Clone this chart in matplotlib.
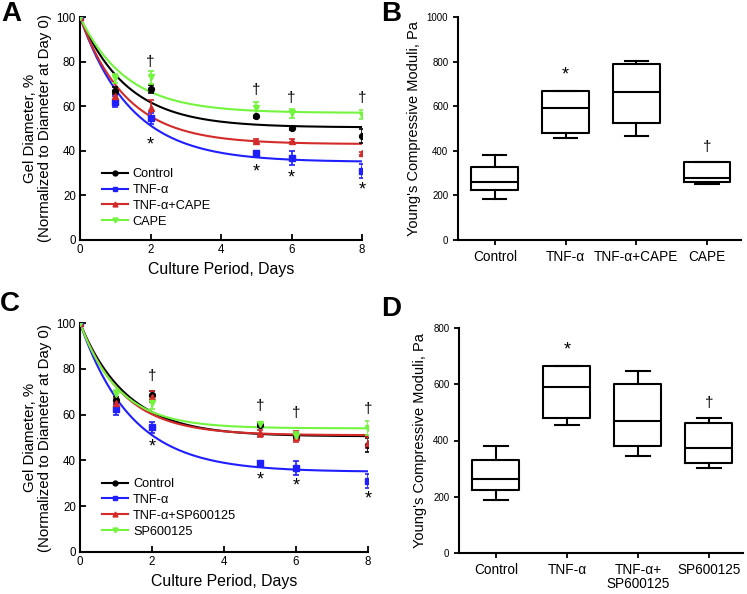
import numpy as np
import matplotlib
matplotlib.use('Agg')
import matplotlib.pyplot as plt
from matplotlib.lines import Line2D

plt.rcParams['font.family'] = ['Liberation Sans', 'DejaVu Sans']

# ---- shared ----
days = [0, 1, 2, 5, 6, 8]
colors = ['black', '#1f1fff', '#d42a2a', '#72f53c']
markers = ['o', 's', '^', 'v']

# ---- panel A: gel diameter, CAPE ----
a_labels = ['Control', 'TNF-α', 'TNF-α+CAPE', 'CAPE']
a_means = [
    [100, 67.0, 67.7, 55.4, 50.1, 46.7],
    [100, 62.1, 54.6, 38.9, 36.7, 31.0],
    [100, 64.4, 59.1, 44.6, 44.6, 38.9],
    [100, 72.6, 73.0, 59.0, 56.9, 56.1],
]
a_errs = [
    [0, 1.5, 2.0, 0.8, 0.8, 3.0],
    [0, 2.5, 2.5, 0.8, 3.0, 3.0],
    [0, 1.5, 3.5, 0.6, 0.6, 0.6],
    [0, 2.0, 3.0, 3.0, 2.0, 2.0],
]
a_plateau = [50.5, 35.0, 43.0, 57.0]
a_rate = [0.74, 0.69, 0.76, 0.76]
a_dagger_days = [2, 5, 6, 8]
a_dagger_y = [80.0, 67.4, 63.6, 63.6]
a_star_y = [42.7, 30.7, 27.7, 22.5]

# ---- panel C: gel diameter, SP600125 ----
c_labels = ['Control', 'TNF-α', 'TNF-α+SP600125', 'SP600125']
c_means = [
    [100, 66.3, 68.5, 55.4, 50.4, 46.7],
    [100, 62.3, 54.4, 38.8, 36.6, 31.0],
    [100, 64.9, 67.8, 51.8, 50.4, 47.8],
    [100, 68.8, 64.9, 55.9, 50.7, 54.0],
]
c_errs = [
    [0, 1.5, 2.0, 1.0, 1.5, 3.0],
    [0, 2.5, 2.5, 0.8, 3.0, 3.0],
    [0, 2.5, 2.5, 1.5, 2.5, 2.5],
    [0, 2.0, 2.5, 1.0, 1.5, 3.0],
]
c_plateau = [50.5, 35.0, 51.0, 54.0]
c_rate = [0.77, 0.70, 0.84, 0.93]
c_dagger_days = [2, 5, 6, 8]
c_dagger_y = [76.8, 63.7, 60.8, 62.3]
c_star_y = [46.0, 31.5, 28.9, 23.2]

# ---- panel B: compressive moduli, CAPE ----
b_groups = ['Control', 'TNF-α', 'TNF-α+CAPE', 'CAPE']
b_whislo = [183, 457, 467, 250]
b_q1 = [222, 479, 524, 262]
b_med = [262, 591, 662, 277]
b_q3 = [329, 666, 789, 349]
b_whishi = [379, 669, 804, 352]
b_star = (2, 741)
b_dagger = (4, 419)

# ---- panel D: compressive moduli, SP600125 ----
d_groups = ['Control', 'TNF-α', 'TNF-α+\nSP600125', 'SP600125']
d_whislo = [190, 456, 346, 302]
d_q1 = [225, 480, 381, 320]
d_med = [264, 592, 468, 373]
d_q3 = [332, 666, 601, 462]
d_whishi = [381, 666, 646, 480]
d_star = (2, 723)
d_dagger = (4, 533)

W, H = 747, 594
fig = plt.figure(figsize=(W / 100, H / 100), dpi=100)


def ax_px(left, top, right, bottom):
    return fig.add_axes([left / W, 1 - bottom / H, (right - left) / W, (bottom - top) / H])


def diameter_panel(ax, labels, means, errs, plateau, rate, dag_x, dag_y, star_y, leg_y):
    t = np.linspace(0, 8, 200)
    for i in range(4):
        curve = plateau[i] + (100 - plateau[i]) * np.exp(-rate[i] * t)
        ax.plot(t, curve, color=colors[i], lw=1.5, zorder=2)
        ax.errorbar(days, means[i], yerr=errs[i], fmt=markers[i], color=colors[i],
                    ms=4.2, capsize=2.5, elinewidth=1.2, capthick=1.2, zorder=3)
    for x, y in zip(dag_x, dag_y):
        ax.text(x, y, '†', ha='center', va='center', fontsize=11)
    for x, y in zip(dag_x, star_y):
        ax.text(x, y, '*', ha='center', va='center', fontsize=13)
    ax.set_xlim(0, 8)
    ax.set_ylim(0, 100)
    ax.set_xticks([0, 2, 4, 6, 8])
    ax.set_yticks([0, 20, 40, 60, 80, 100])
    ax.tick_params(direction='in', length=4, width=1.3, labelsize=8.3, pad=3)
    for s in ['top', 'right']:
        ax.spines[s].set_visible(False)
    for s in ['left', 'bottom']:
        ax.spines[s].set_linewidth(1.5)
    ax.set_xlabel('Culture Period, Days', fontsize=11.4, labelpad=4)
    ax.set_ylabel('Gel Diameter, %\n(Normalized to Diameter at Day 0)', fontsize=10.8,
                  labelpad=3, linespacing=1.1)
    handles = [Line2D([], [], color=colors[i], marker=markers[i], ms=3.5, lw=1.5)
               for i in range(4)]
    ax.legend(handles, labels, loc='upper left', bbox_to_anchor=(0.06, leg_y),
              frameon=False, fontsize=9.2, handlelength=2.0, handletextpad=0.4,
              labelspacing=0.3, borderaxespad=0)


def box_panel(ax, groups, whislo, q1, med, q3, whishi, ymax, yticks, star, dagger):
    stats = [dict(whislo=whislo[i], q1=q1[i], med=med[i], q3=q3[i], whishi=whishi[i])
             for i in range(4)]
    lp = dict(color='black', linewidth=1.5)
    ax.bxp(stats, positions=[1, 2, 3, 4], widths=0.66, capwidths=0.33, showfliers=False,
           boxprops=lp, medianprops=lp, whiskerprops=lp, capprops=lp)
    ax.text(star[0], star[1], '*', ha='center', va='center', fontsize=13)
    ax.text(dagger[0], dagger[1], '†', ha='center', va='center', fontsize=11)
    ax.set_xlim(0.48, 4.48)
    ax.set_ylim(0, ymax)
    ax.set_yticks(yticks)
    ax.set_xticks([1, 2, 3, 4])
    ax.set_xticklabels(groups, fontsize=9.8, linespacing=1.0)
    ax.tick_params(axis='y', labelsize=7)
    ax.tick_params(direction='out', length=3.5, width=1.3)
    for s in ['top', 'right']:
        ax.spines[s].set_visible(False)
    for s in ['left', 'bottom']:
        ax.spines[s].set_linewidth(1.5)
    ax.set_ylabel("Young's Compressive Moduli, Pa", fontsize=10.5, labelpad=4)


ax_a = ax_px(80, 17, 362, 240)
diameter_panel(ax_a, a_labels, a_means, a_errs, a_plateau, a_rate,
               a_dagger_days, a_dagger_y, a_star_y, 0.345)

ax_b = ax_px(458, 17, 741, 240)
box_panel(ax_b, b_groups, b_whislo, b_q1, b_med, b_q3, b_whishi,
          1000, [0, 200, 400, 600, 800, 1000], b_star, b_dagger)

ax_c = ax_px(80, 323, 368, 552)
diameter_panel(ax_c, c_labels, c_means, c_errs, c_plateau, c_rate,
               c_dagger_days, c_dagger_y, c_star_y, 0.345)

ax_d = ax_px(459, 328, 743, 553)
box_panel(ax_d, d_groups, d_whislo, d_q1, d_med, d_q3, d_whishi,
          800, [0, 200, 400, 600, 800], d_star, d_dagger)

for letter, x, y in [('A', 1, 14), ('B', 381, 14), ('C', 0, 304), ('D', 381, 309)]:
    fig.text(x / W, 1 - y / H, letter, fontsize=20, fontweight='bold', ha='left', va='center')

fig.savefig('out.png', dpi=100)
